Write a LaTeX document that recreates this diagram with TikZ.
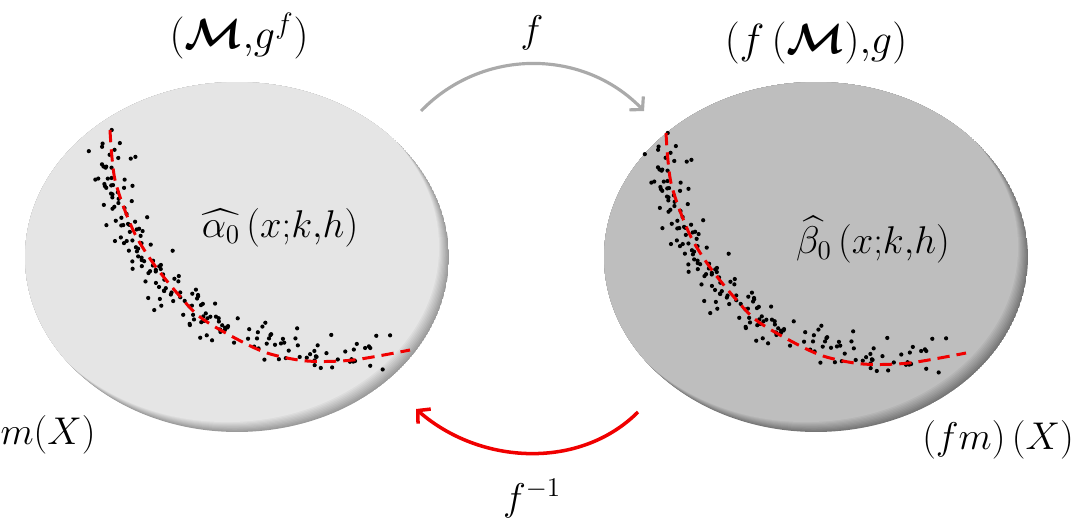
\RequirePackage{fix-cm}
\documentclass[tikz,border=0pt]{standalone}
\usepackage{amsmath}
\usepackage{xcolor}
\usepackage{tikz}
\usetikzlibrary{arrows.meta,shapes.geometric,positioning}

\definecolor{lightset}{RGB}{229,229,229}
\definecolor{lightrim}{RGB}{155,155,155}
\definecolor{darkset}{RGB}{190,190,190}
\definecolor{darkrim}{RGB}{118,118,118}
\definecolor{mapgray}{RGB}{170,170,170}
\definecolor{mapred}{RGB}{240,0,0}

\newcommand\dotcloud{%
  \pgfmathsetseed{11}
  \foreach \i in {1,...,190}{
    \pgfmathsetmacro\t{0.04+0.9*rnd}
    \pgfmathsetmacro\u{1-\t}
    \pgfmathsetmacro\px{\u^3*108+3*\u^2*\t*112+3*\u*\t^2*235+\t^3*410+26*(rnd+rnd-1)}
    \pgfmathsetmacro\py{\u^3*130+3*\u^2*\t*285+3*\u*\t^2*380+\t^3*350+24*(rnd+rnd-1)}
    \fill (\px,\py) circle[radius=1.2pt];
  }
  \draw[fit line] plot[smooth] coordinates {(110,130) (115,180) (133,230) (153,263) (177,293)
    (200,317) (233,337) (267,353) (307,361) (353,360) (410,350)};
}

\tikzset{
  lab/.style={font=\fontsize{22}{26}\selectfont, inner sep=0pt},
  toplab/.style={font=\fontsize{24}{28}\selectfont, inner sep=0pt},
  fit line/.style={mapred, line width=1.7pt, dash pattern=on 7pt off 4pt},
  setnode/.style n args={2}{ellipse, minimum width=8.48cm, minimum height=7cm, inner sep=0pt,
    path picture={
      \foreach \k in {0,...,9}{
        \pgfmathtruncatemacro\mix{100*\k/9}
        \fill[#1!\mix!#2] ([shift={(-1.1*\k,-1.1*\k)}]path picture bounding box.center)
          ellipse[x radius=4.24cm, y radius=3.5cm];
      }
    }},
  mapf/.style={mapgray, line width=1.8pt, -{Straight Barb[length=5pt, width=11pt]}},
  mapinv/.style={mapred, line width=2pt, -{Straight Barb[length=5pt, width=11pt]}},
}

\begin{document}
\begin{tikzpicture}[x=0.02cm, y=-0.02cm]
  \useasboundingbox (0,0) rectangle (1084,521);

  \node[setnode={lightset}{lightrim}] (lset) at (237,257) {};
  \node[setnode={darkset}{darkrim}] (rset) at (816,257) {};

  \begin{scope}
    \dotcloud
  \end{scope}
  \begin{scope}[shift={(556,3)}]
    \dotcloud
  \end{scope}

  \node[toplab] (lsetlab) at (239,36) {$(\boldsymbol{\mathcal{M}}{,}g^{f})$};
  \node[toplab] (rsetlab) at (816,43) {$(f\,(\boldsymbol{\mathcal{M}}){,}g)$};
  \node[lab] (alphahat) at (280,228) {$\widehat{\alpha_0}\,(x{;}k{,}h)$};
  \node[lab] (betahat) at (873,240) {$\widehat{\beta_0}\,(x{;}k{,}h)$};
  \node[lab] (mX) at (48,435) {$m(X)$};
  \node[lab] (fmX) at (998,440) {$(fm)\,(X)$};

  \coordinate (fstart) at (421,111);
  \coordinate (fend) at (644,111);
  \coordinate (invstart) at (638,412);
  \coordinate (invend) at (416,409);

  \draw[mapf] (fstart) .. controls (482,48) and (583,48) .. (fend);
  \draw[mapinv] (invstart) .. controls (580,470) and (480,465) .. (invend);

  \node[lab] (flab) at (532,33) {$f$};
  \node[lab, below=38pt of invstart -| flab] (finvlab) {$f^{-1}$};
\end{tikzpicture}
\end{document}
